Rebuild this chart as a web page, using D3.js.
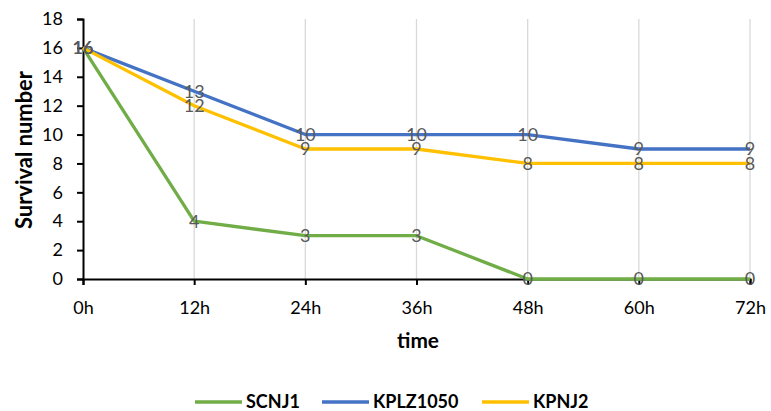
<!DOCTYPE html>
<html><head><meta charset="utf-8">
<script src="https://cdn.jsdelivr.net/npm/d3@7"></script>
<style>body{margin:0;background:#fff;} svg{display:block;font-family:Lato,"Open Sans",sans-serif;}</style>
</head><body>
<svg id="c" width="771" height="411"></svg>
<script>
const categories = ["0h","12h","24h","36h","48h","60h","72h"];
const seriesNames = ["SCNJ1","KPLZ1050","KPNJ2"];
const scnj1 = [16,4,3,3,0,0,0];
const kplz1050 = [16,13,10,10,10,9,9];
const kpnj2 = [16,12,9,9,8,8,8];
const yTicks = [0,2,4,6,8,10,12,14,16,18];
const colors = ["#70AD47","#4472C4","#FFC000"];
const series = [scnj1,kplz1050,kpnj2];

const svg = d3.select("#c");
const x = d3.scalePoint().domain(categories).range([83,750]);
const y = d3.scaleLinear().domain([0,18]).range([279,19]);

function fit(sel, target){
  const n = sel.node(); const fs = parseFloat(sel.attr("font-size"));
  const w = n.getComputedTextLength();
  if (w>0) sel.attr("font-size", (fs*target/w).toFixed(2));
}

// gridlines
svg.append("g").selectAll("line").data(categories.slice(1)).join("line")
  .attr("x1",d=>x(d)).attr("x2",d=>x(d)).attr("y1",y(18)).attr("y2",y(0))
  .attr("stroke","#d9d9d9").attr("stroke-width",1.3);

// y axis
const ya = svg.append("g").attr("transform",`translate(${x("0h")},0)`)
  .call(d3.axisLeft(y).tickValues(yTicks).tickSize(6).tickPadding(14));
ya.select(".domain").attr("stroke","#000").attr("stroke-width",2);
ya.selectAll(".tick line").attr("stroke","#000").attr("stroke-width",2);
ya.selectAll("text").attr("font-size",18).attr("fill","#000").attr("font-family","Lato,'Open Sans',sans-serif");

// x axis
const xa = svg.append("g").attr("transform",`translate(0,${y(0)})`)
  .call(d3.axisBottom(x).tickSize(6).tickPadding(16));
xa.select(".domain").attr("stroke","#000").attr("stroke-width",2);
xa.selectAll(".tick line").attr("stroke","#000").attr("stroke-width",2);
xa.selectAll("text").attr("font-size",18).attr("fill","#000").attr("font-family","Lato,'Open Sans',sans-serif");

// lines
const line = d3.line().x((d,i)=>x(categories[i])).y(d=>y(d));
series.forEach((s,k)=>{
  svg.append("path").datum(s).attr("d",line).attr("fill","none")
    .attr("stroke",colors[k]).attr("stroke-width",3.3).attr("stroke-linejoin","round");
});
// labels
series.forEach((s,k)=>{
  svg.append("g").selectAll("text").data(s).join("text")
    .attr("x",(d,i)=>x(categories[i])).attr("y",d=>y(d)).attr("dy","0.36em")
    .attr("text-anchor","middle").attr("font-size",18).attr("fill","#595959").text(d=>d);
});

// axis titles
const yt = svg.append("text").attr("transform","translate(32,150) rotate(-90)").attr("text-anchor","middle")
  .attr("font-size",20).attr("font-weight","bold").attr("fill","#000").text("Survival number");
fit(yt,158);
const xt = svg.append("text").attr("x",418).attr("y",348).attr("text-anchor","middle")
  .attr("font-size",20).attr("font-weight","bold").attr("fill","#000").text("time");
fit(xt,42);

// legend
const lg = [195,322,482];
const lw = [51,85,57];
seriesNames.forEach((n,k)=>{
  const g = svg.append("g");
  g.append("line").attr("x1",lg[k]).attr("x2",lg[k]+47).attr("y1",402).attr("y2",402)
    .attr("stroke",colors[k]).attr("stroke-width",3.3);
  const t = g.append("text").attr("x",lg[k]+51).attr("y",402).attr("dy","0.36em")
    .attr("font-size",18).attr("font-weight","bold").attr("fill","#000").text(n);
});
</script>
</body></html>
